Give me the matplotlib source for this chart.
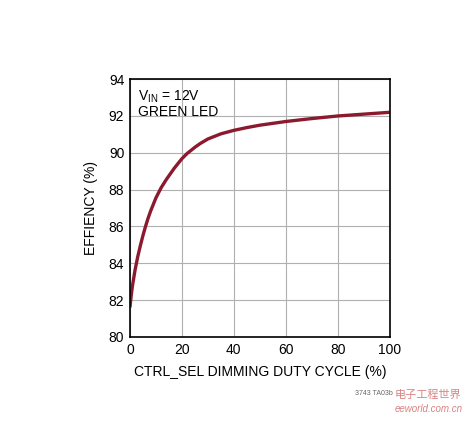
import numpy as np
import matplotlib.pyplot as plt

plt.rcParams['font.family'] = ['Liberation Sans', 'Noto Sans CJK SC', 'DejaVu Sans']

# duty cycle (%) and efficiency (%)
duty = [0, 0.5, 1, 2, 3, 4, 5, 6, 7, 8, 10, 12, 14, 17, 20, 22, 25, 27, 30, 35,
        40, 45, 50, 55, 60, 65, 70, 75, 80, 90, 100]
eff = [81.6, 82.25, 82.8, 83.65, 84.35, 84.95, 85.5, 86.0, 86.45, 86.85, 87.55,
       88.1, 88.55, 89.15, 89.68, 89.96, 90.3, 90.5, 90.75, 91.03, 91.22, 91.37,
       91.5, 91.6, 91.7, 91.78, 91.86, 91.93, 92.0, 92.1, 92.2]
xticks = [0, 20, 40, 60, 80, 100]
yticks = [80, 82, 84, 86, 88, 90, 92, 94]

fig = plt.figure(figsize=(4.69, 4.29), dpi=100)
ax = fig.add_axes([0.277, 0.2145, 0.554, 0.601])
ax.plot(duty, eff, color='#8b1a2e', linewidth=2.4, solid_capstyle='butt')
ax.set_xlim(0, 100)
ax.set_ylim(80, 94)
ax.set_xticks(xticks)
ax.set_yticks(yticks)
ax.grid(True, color='#b0b0b0', linewidth=0.8)
ax.tick_params(length=0, labelsize=10, pad=4)
for s in ax.spines.values():
    s.set_linewidth(1.2)
ax.set_xlabel('CTRL_SEL DIMMING DUTY CYCLE (%)', fontsize=10, labelpad=6)
ax.set_ylabel('EFFIENCY (%)', fontsize=10, labelpad=8)
ax.text(3, 93.5, r'V$_{\mathregular{IN}}$ = 12V', fontsize=10, va='top')
ax.text(3, 92.6, 'GREEN LED', fontsize=10, va='top')

fig.text(355/469, 1 - 395/429, '3743 TA03b', fontsize=5, color='#666666')
fig.text(395/469, 1 - 398/429, '电子工程世界', fontsize=8, color='#c03030', alpha=0.6)
fig.text(395/469, 1 - 412/429, 'eeworld.com.cn', fontsize=7, color='#c03030', alpha=0.6,
         style='italic')

fig.savefig('out.png', dpi=100)
